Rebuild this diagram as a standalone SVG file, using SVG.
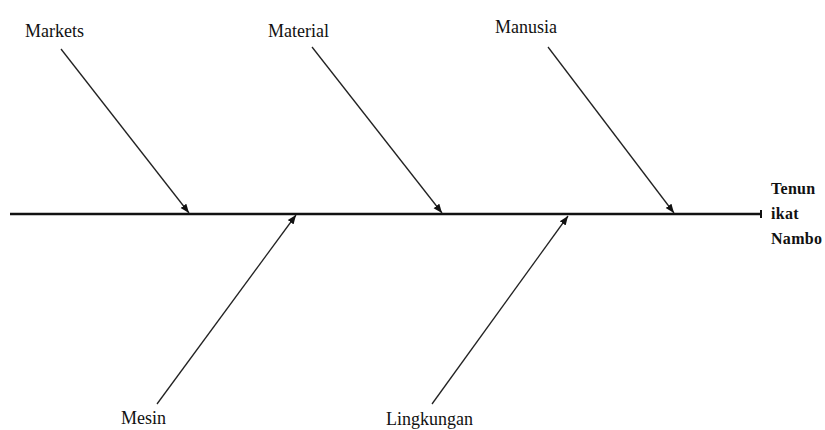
<svg xmlns="http://www.w3.org/2000/svg" width="825" height="430" viewBox="0 0 825 430">
<style>
.lbl{font-family:"Liberation Serif","Times New Roman",serif;font-size:18px;fill:#111}
.eff{font-family:"Liberation Serif","Times New Roman",serif;font-size:16px;font-weight:bold;fill:#111;letter-spacing:0.3px}
.bone{stroke:#222;stroke-width:1.3;fill:none}
.spine{stroke:#111;stroke-width:2.6;fill:none}
</style>
<defs>
<marker id="ah" viewBox="0 0 10 10" refX="10" refY="5" markerWidth="9" markerHeight="9" markerUnits="userSpaceOnUse" orient="auto">
<path d="M0,1 L10,5 L0,9 Z" fill="#111"/>
</marker>
</defs>
<rect width="825" height="430" fill="#fff"/>
<g id="connectors">
<line class="spine" x1="10" y1="214" x2="761" y2="214"/>
<line x1="761" y1="210" x2="761" y2="218" stroke="#111" stroke-width="2"/>
<line class="bone" x1="61" y1="49" x2="189" y2="213" marker-end="url(#ah)"/>
<line class="bone" x1="312" y1="47" x2="442" y2="213" marker-end="url(#ah)"/>
<line class="bone" x1="548" y1="47" x2="674" y2="213" marker-end="url(#ah)"/>
<line class="bone" x1="157" y1="404" x2="296" y2="215" marker-end="url(#ah)"/>
<line class="bone" x1="432" y1="404" x2="568" y2="216" marker-end="url(#ah)"/>
</g>
<g id="markets"><text class="lbl" x="25" y="37">Markets</text></g>
<g id="material"><text class="lbl" x="268" y="37">Material</text></g>
<g id="manusia"><text class="lbl" x="495" y="33">Manusia</text></g>
<g id="mesin"><text class="lbl" x="121" y="424">Mesin</text></g>
<g id="lingkungan"><text class="lbl" x="386" y="425">Lingkungan</text></g>
<g id="effect">
<text class="eff" x="771" y="194">Tenun</text>
<text class="eff" x="771" y="219">ikat</text>
<text class="eff" x="771" y="244">Nambo</text>
</g>
</svg>
